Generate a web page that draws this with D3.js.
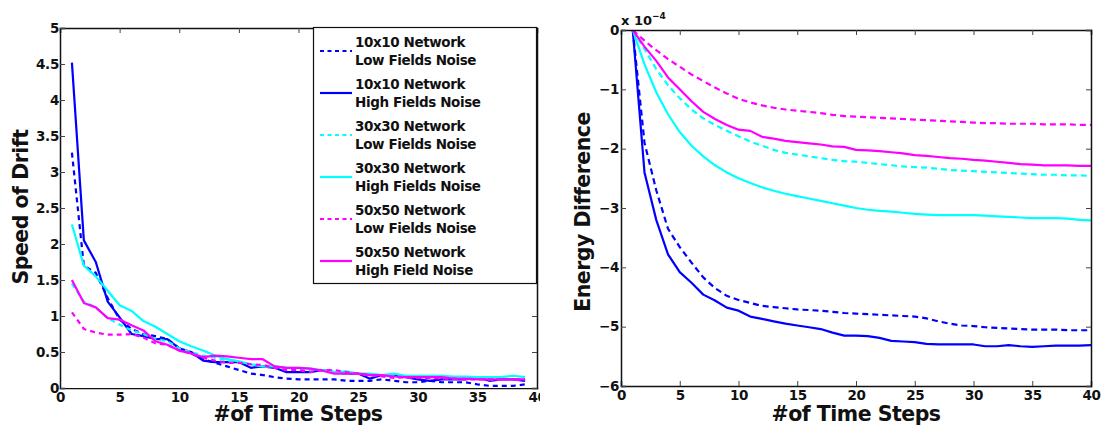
<!DOCTYPE html>
<html>
<head>
<meta charset="utf-8">
<script src="https://cdn.jsdelivr.net/npm/d3@7"></script>
<style>
  html, body { margin: 0; padding: 0; background: #fff; }
  svg { display: block; }
  text { font-family: "DejaVu Sans", sans-serif; font-weight: bold; fill: #111; }
</style>
</head>
<body>
<svg id="chart" width="1102" height="425"></svg>
<script>
// ---- data -------------------------------------------------------------
const driftSteps = d3.range(1, 40);   // 1..39
const energySteps = d3.range(1, 41);  // 1..40

const seriesNames = [
  ["10x10 Network", "Low Fields Noise"],
  ["10x10 Network", "High Fields Noise"],
  ["30x30 Network", "Low Fields Noise"],
  ["30x30 Network", "High Fields Noise"],
  ["50x50 Network", "Low Fields Noise"],
  ["50x50 Network", "High Field Noise"]
];
const seriesColors = ["#0000ff", "#0000ff", "#00ffff", "#00ffff", "#ff00ff", "#ff00ff"];
const seriesDashed = [true, false, true, false, true, false];

// Speed of drift per time step
const drift10Low  = [3.27,1.70,1.60,1.25,0.95,0.82,0.75,0.72,0.68,0.55,0.48,0.40,0.35,0.30,0.25,0.20,0.18,0.15,0.13,0.12,0.12,0.12,0.12,0.10,0.10,0.10,0.12,0.10,0.08,0.08,0.10,0.08,0.08,0.08,0.05,0.03,0.03,0.03,0.05];
const drift10High = [4.52,2.05,1.75,1.20,0.98,0.75,0.72,0.68,0.68,0.55,0.50,0.38,0.36,0.36,0.36,0.28,0.30,0.28,0.22,0.22,0.22,0.25,0.22,0.20,0.20,0.13,0.18,0.17,0.15,0.12,0.10,0.12,0.12,0.12,0.15,0.10,0.12,0.12,0.10];
const drift30Low  = [1.45,1.20,1.12,0.97,0.88,0.80,0.75,0.68,0.65,0.55,0.50,0.45,0.42,0.38,0.35,0.33,0.30,0.30,0.28,0.27,0.25,0.25,0.22,0.20,0.20,0.18,0.17,0.17,0.15,0.15,0.14,0.14,0.13,0.13,0.13,0.12,0.12,0.12,0.12];
const drift30High = [2.27,1.70,1.55,1.35,1.15,1.07,0.93,0.85,0.75,0.65,0.58,0.52,0.45,0.40,0.37,0.33,0.30,0.30,0.28,0.28,0.27,0.25,0.22,0.23,0.20,0.20,0.18,0.20,0.17,0.17,0.17,0.17,0.16,0.16,0.15,0.15,0.15,0.17,0.15];
const drift50Low  = [1.05,0.82,0.77,0.74,0.74,0.75,0.70,0.62,0.60,0.52,0.48,0.42,0.38,0.35,0.35,0.33,0.32,0.28,0.25,0.25,0.22,0.25,0.25,0.22,0.20,0.18,0.16,0.14,0.15,0.14,0.14,0.13,0.13,0.12,0.12,0.12,0.12,0.12,0.12];
const drift50High = [1.50,1.18,1.12,0.97,0.95,0.87,0.80,0.65,0.60,0.52,0.48,0.43,0.45,0.44,0.42,0.40,0.40,0.30,0.28,0.28,0.27,0.24,0.20,0.20,0.20,0.18,0.18,0.16,0.15,0.15,0.15,0.15,0.13,0.13,0.12,0.12,0.12,0.12,0.12];

// Energy difference per time step, in units of 1e-4
const energy10Low  = [0,-1.90,-2.70,-3.35,-3.66,-3.92,-4.17,-4.35,-4.48,-4.55,-4.60,-4.65,-4.67,-4.69,-4.71,-4.72,-4.73,-4.75,-4.77,-4.78,-4.79,-4.80,-4.81,-4.82,-4.83,-4.86,-4.91,-4.95,-4.98,-4.99,-5.01,-5.02,-5.03,-5.04,-5.05,-5.05,-5.05,-5.06,-5.06,-5.06];
const energy10High = [0,-2.40,-3.20,-3.78,-4.08,-4.26,-4.46,-4.56,-4.68,-4.73,-4.83,-4.87,-4.91,-4.95,-4.98,-5.01,-5.04,-5.10,-5.15,-5.15,-5.16,-5.19,-5.24,-5.25,-5.26,-5.29,-5.30,-5.30,-5.30,-5.30,-5.33,-5.33,-5.31,-5.33,-5.34,-5.33,-5.32,-5.32,-5.32,-5.31];
const energy30Low  = [0,-0.32,-0.66,-0.93,-1.15,-1.34,-1.49,-1.60,-1.70,-1.79,-1.88,-1.95,-2.02,-2.07,-2.10,-2.13,-2.16,-2.19,-2.21,-2.22,-2.24,-2.26,-2.28,-2.30,-2.31,-2.32,-2.34,-2.36,-2.37,-2.38,-2.39,-2.40,-2.41,-2.42,-2.43,-2.44,-2.44,-2.45,-2.45,-2.46];
const energy30High = [0,-0.58,-1.05,-1.42,-1.72,-1.95,-2.13,-2.28,-2.40,-2.50,-2.58,-2.65,-2.71,-2.76,-2.80,-2.84,-2.88,-2.92,-2.96,-3.00,-3.03,-3.05,-3.06,-3.08,-3.10,-3.11,-3.12,-3.12,-3.12,-3.12,-3.13,-3.14,-3.15,-3.16,-3.17,-3.17,-3.17,-3.18,-3.20,-3.21];
const energy50Low  = [0,-0.18,-0.34,-0.49,-0.62,-0.75,-0.86,-0.97,-1.07,-1.16,-1.22,-1.27,-1.31,-1.34,-1.36,-1.38,-1.40,-1.43,-1.45,-1.46,-1.47,-1.48,-1.49,-1.50,-1.51,-1.52,-1.53,-1.54,-1.55,-1.56,-1.57,-1.57,-1.58,-1.58,-1.58,-1.59,-1.59,-1.59,-1.60,-1.60];
const energy50High = [0,-0.28,-0.52,-0.80,-1.00,-1.20,-1.38,-1.50,-1.60,-1.68,-1.70,-1.80,-1.83,-1.87,-1.89,-1.91,-1.93,-1.96,-1.97,-2.02,-2.03,-2.04,-2.06,-2.08,-2.11,-2.12,-2.14,-2.16,-2.17,-2.19,-2.20,-2.22,-2.24,-2.26,-2.27,-2.28,-2.28,-2.28,-2.29,-2.29];

const xTicks = [0, 5, 10, 15, 20, 25, 30, 35, 40];
const driftTicks = [0, 0.5, 1, 1.5, 2, 2.5, 3, 3.5, 4, 4.5, 5];
const energyTicks = [0, -1, -2, -3, -4, -5, -6];

const driftSeries = [drift10Low, drift10High, drift30Low, drift30High, drift50Low, drift50High];
const energySeries = [energy10Low, energy10High, energy30Low, energy30High, energy50Low, energy50High];

// ---- drawing ----------------------------------------------------------
const svg = d3.select("#chart");

function drawPanel(opts) {
  const { left, right, top, bottom, xDomain, yDomain, yTicks, yFmt, yPad, steps, series, clipX, dash } = opts;
  const x = d3.scaleLinear().domain(xDomain).range([left, right]);
  const y = d3.scaleLinear().domain(yDomain).range([bottom, top]);
  const g = svg.append("g");

  // data lines, clipped to the axes box
  const clipId = "clip" + left;
  svg.append("clipPath").attr("id", clipId)
    .append("rect").attr("x", left).attr("y", top).attr("width", right - left).attr("height", bottom - top);
  const line = d3.line().x((d, i) => x(steps[i])).y(d => y(d));
  const lines = g.append("g").attr("clip-path", `url(#${clipId})`);
  series.forEach((vals, k) => {
    lines.append("path")
      .attr("d", line(vals))
      .attr("fill", "none")
      .attr("stroke", seriesColors[k])
      .attr("stroke-width", 2.2)
      .attr("stroke-linejoin", "round")
      .attr("stroke-dasharray", seriesDashed[k] ? dash : null);
  });

  // axes (ticks point inward, mirrored on top and right)
  const tickLen = 5;
  const axB = d3.axisBottom(x).tickValues(xTicks).tickSize(-tickLen).tickPadding(4).tickFormat(d3.format("d"));
  const axT = d3.axisTop(x).tickValues(xTicks).tickSize(-tickLen).tickFormat("");
  const axL = d3.axisLeft(y).tickValues(yTicks).tickSize(-tickLen).tickPadding(yPad).tickFormat(yFmt);
  const axR = d3.axisRight(y).tickValues(yTicks).tickSize(-tickLen).tickFormat("");

  const gb = g.append("g").attr("transform", `translate(0,${bottom})`).call(axB);
  const gt = g.append("g").attr("transform", `translate(0,${top})`).call(axT);
  const gl = g.append("g").attr("transform", `translate(${left},0)`).call(axL);
  const gr = g.append("g").attr("transform", `translate(${right},0)`).call(axR);
  [gb, gt, gl, gr].forEach(a => {
    a.select(".domain").attr("stroke", "#111").attr("stroke-width", 1.5);
    a.selectAll(".tick line").attr("stroke", "#444").attr("stroke-width", 1);
    a.selectAll("text").attr("font-size", 13.5).attr("font-family", "DejaVu Sans, sans-serif")
      .attr("font-weight", "bold").attr("fill", "#111").attr("letter-spacing", -0.3);
  });
  if (clipX) {
    const cid = "tclip" + left;
    svg.append("clipPath").attr("id", cid)
      .append("rect").attr("x", 0).attr("y", 0).attr("width", clipX).attr("height", 425);
    gb.attr("clip-path", `url(#${cid})`);
  }
  return { x, y, g };
}

function axisTitle(text, x, y, rotate) {
  svg.append("text")
    .attr("transform", `translate(${x},${y})` + (rotate ? " rotate(-90)" : ""))
    .attr("text-anchor", "middle")
    .attr("font-size", 20.5)
    .attr("letter-spacing", -0.5)
    .text(text);
}

// Left panel: speed of drift
drawPanel({
  left: 60, right: 537, top: 28, bottom: 388,
  xDomain: [0, 40], yDomain: [0, 5], yTicks: driftTicks, yPad: 1,
  yFmt: d => d3.format("")(d), steps: driftSteps, series: driftSeries, clipX: 540, dash: "5,4"
});
axisTitle("#of Time Steps", 298, 421, false);
axisTitle("Speed of Drift", 28, 207, true);

// legend
const legend = svg.append("g");
legend.append("rect").attr("x", 313.5).attr("y", 27.5).attr("width", 223).attr("height", 256)
  .attr("fill", "#fff").attr("stroke", "#111").attr("stroke-width", 1.2);
seriesNames.forEach((nm, k) => {
  const y0 = 51 + k * 42;
  legend.append("line").attr("x1", 320).attr("x2", 352).attr("y1", y0).attr("y2", y0)
    .attr("stroke", seriesColors[k]).attr("stroke-width", 2.2)
    .attr("stroke-dasharray", seriesDashed[k] ? "4,3.5" : null);
  legend.append("text").attr("x", 355).attr("y", y0 - 4).attr("font-size", 13.5)
    .attr("letter-spacing", -0.4).text(nm[0]);
  legend.append("text").attr("x", 355).attr("y", y0 + 14).attr("font-size", 13.5)
    .attr("letter-spacing", -0.4).text(nm[1]);
});

// Right panel: energy difference
drawPanel({
  left: 621, right: 1091, top: 30, bottom: 386,
  xDomain: [0, 40], yDomain: [-6, 0], yTicks: energyTicks, yPad: 2,
  yFmt: d => d === 0 ? "0" : "\u2212" + Math.abs(d), steps: energySteps, series: energySeries, dash: "6,4"
});
axisTitle("#of Time Steps", 856, 421, false);
axisTitle("Energy Difference", 590, 212, true);

const expo = svg.append("text").attr("x", 621).attr("y", 25).attr("font-size", 13);
expo.append("tspan").text("x 10");
expo.append("tspan").attr("font-size", 9).attr("dy", -6).text("\u22124");
</script>
</body>
</html>
